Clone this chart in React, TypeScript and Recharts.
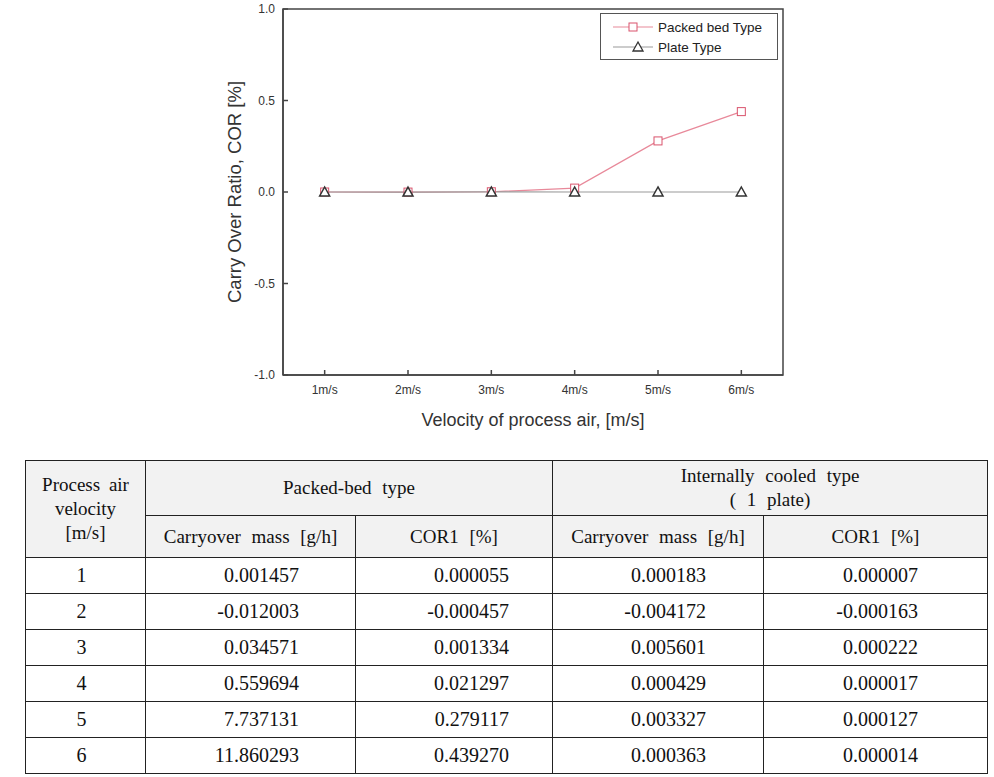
import React from 'react';
import {
  LineChart,
  Line,
  XAxis,
  YAxis,
  ReferenceArea,
  Legend,
} from 'recharts';

// chart data (COR1 [%] per process air velocity)
const velocities = [1, 2, 3, 4, 5, 6];
const xTickLabels = ['1m/s', '2m/s', '3m/s', '4m/s', '5m/s', '6m/s'];
const yTicks = [-1, -0.5, 0, 0.5, 1];
const packedCor = [0.000055, -0.000457, 0.001334, 0.021297, 0.279117, 0.43927];
const plateCor = [0.000007, -0.000163, 0.000222, 0.000017, 0.000127, 0.000014];

// table data
const packedMass = [0.001457, -0.012003, 0.034571, 0.559694, 7.737131, 11.860293];
const plateMass = [0.000183, -0.004172, 0.005601, 0.000429, 0.003327, 0.000363];

const PACKED_LINE = '#e8899a';
const PACKED_MARK = '#d9536c';
const PLATE_LINE = '#9a9a9a';
const PLATE_MARK = '#333333';
const SANS = '"Liberation Sans", Arial, sans-serif';

const chartData = velocities.map((v, i) => ({
  v,
  packed: packedCor[i],
  plate: plateCor[i],
}));

const SquareDot = (p: any) => {
  if (p.cx == null || p.cy == null) return null;
  return (
    <rect
      key={`sq-${p.index}`}
      x={p.cx - 4}
      y={p.cy - 4}
      width={8}
      height={8}
      fill="#fff"
      stroke={PACKED_MARK}
      strokeWidth={1}
    />
  );
};

const TriangleDot = (p: any) => {
  if (p.cx == null || p.cy == null) return null;
  const { cx, cy } = p;
  return (
    <path
      key={`tr-${p.index}`}
      d={`M${cx},${cy - 5} L${cx + 5},${cy + 4} L${cx - 5},${cy + 4} Z`}
      fill="#fff"
      stroke={PLATE_MARK}
      strokeWidth={1.5}
    />
  );
};

const legendItems = [
  { name: 'Packed bed Type', line: PACKED_LINE, kind: 'square' },
  { name: 'Plate Type', line: PLATE_LINE, kind: 'triangle' },
];

const LegendBox = () => (
  <div
    style={{
      border: '1px solid #555',
      width: 178,
      height: 47,
      boxSizing: 'border-box',
      background: '#fff',
      fontFamily: SANS,
      fontSize: 13.5,
      color: '#222',
      paddingTop: 3,
    }}
  >
    {legendItems.map((it) => (
      <div key={it.name} style={{ display: 'flex', alignItems: 'center', height: 20 }}>
        <svg width={54} height={14} style={{ flex: 'none' }}>
          <line x1={12} y1={7} x2={52} y2={7} stroke={it.line} strokeWidth={1.2} />
          {it.kind === 'square' ? (
            <rect x={28} y={3} width={8} height={8} fill="#fff" stroke={PACKED_MARK} />
          ) : (
            <path d="M37,2 L42,11 L32,11 Z" fill="#fff" stroke={PLATE_MARK} strokeWidth={1.3} />
          )}
        </svg>
        <span style={{ marginLeft: 3 }}>{it.name}</span>
      </div>
    ))}
  </div>
);

const cellBorder = '1px solid #222';

const th: React.CSSProperties = {
  border: cellBorder,
  background: '#f2f2f2',
  fontWeight: 'normal',
  fontSize: 19,
  padding: 0,
  lineHeight: '24px',
  wordSpacing: 6,
};

const td: React.CSSProperties = {
  border: cellBorder,
  textAlign: 'right',
  padding: 0,
  height: 35,
};

// right padding of each value column so the numbers line up like the source table
const valuePad = [56, 43, 57, 69];

export default function App() {
  return (
    <div style={{ position: 'absolute', left: 0, top: 0, width: 994, height: 777, background: '#fff' }}>
      <div style={{ position: 'absolute', left: 220, top: 0 }}>
        <LineChart
          width={580}
          height={440}
          data={chartData}
          margin={{ top: 9, right: 17, left: 0, bottom: 0 }}
        >
          <ReferenceArea
            x1={0.5}
            x2={6.5}
            y1={-1}
            y2={1}
            fill="none"
            stroke="#444"
            strokeWidth={1.5}
            ifOverflow="visible"
          />
          <XAxis
            dataKey="v"
            type="number"
            domain={[0.5, 6.5]}
            ticks={velocities}
            tickFormatter={(v: number) => xTickLabels[velocities.indexOf(v)]}
            height={65}
            stroke="#444"
            strokeWidth={1.5}
            tickSize={-5}
            tickMargin={15}
            tick={{ fontSize: 12, fill: '#333', fontFamily: SANS }}
            label={{
              value: 'Velocity of process air, [m/s]',
              position: 'insideBottom',
              offset: 14,
              style: { fontSize: 18, fill: '#333', fontFamily: SANS },
            }}
          />
          <YAxis
            type="number"
            domain={[-1, 1]}
            ticks={yTicks}
            tickFormatter={(v: number) => v.toFixed(1)}
            width={63}
            stroke="#444"
            strokeWidth={1.5}
            tickSize={-5}
            tickMargin={13}
            tick={{ fontSize: 12, fill: '#333', fontFamily: SANS }}
            label={{
              value: 'Carry Over Ratio, COR [%]',
              angle: -90,
              position: 'insideLeft',
              offset: 14,
              style: {
                textAnchor: 'middle',
                fontSize: 18.5,
                fill: '#333',
                fontFamily: SANS,
              },
            }}
          />
          <Legend
            layout="vertical"
            align="center"
            verticalAlign="middle"
            content={() => <LegendBox />}
            wrapperStyle={{ position: 'absolute', left: 380, top: 13, width: 178 }}
          />
          <Line
            dataKey="packed"
            name="Packed bed Type"
            stroke={PACKED_LINE}
            strokeWidth={1.2}
            dot={SquareDot}
            isAnimationActive={false}
          />
          <Line
            dataKey="plate"
            name="Plate Type"
            stroke={PLATE_LINE}
            strokeWidth={1.2}
            dot={TriangleDot}
            isAnimationActive={false}
          />
        </LineChart>
      </div>

      <table
        style={{
          position: 'absolute',
          left: 25,
          top: 460,
          width: 962,
          borderCollapse: 'collapse',
          tableLayout: 'fixed',
          fontFamily: '"Liberation Serif", "DejaVu Serif", serif',
          fontSize: 20,
          color: '#111',
        }}
      >
        <colgroup>
          <col style={{ width: 120 }} />
          <col style={{ width: 210 }} />
          <col style={{ width: 197 }} />
          <col style={{ width: 211 }} />
          <col style={{ width: 224 }} />
        </colgroup>
        <thead>
          <tr style={{ height: 55 }}>
            <th rowSpan={2} style={{ ...th, wordSpacing: 4 }}>
              Process air
              <br />
              velocity
              <br />
              [m/s]
            </th>
            <th colSpan={2} style={th}>
              Packed-bed type
            </th>
            <th colSpan={2} style={th}>
              Internally cooled type
              <br />( 1 plate)
            </th>
          </tr>
          <tr style={{ height: 42 }}>
            <th style={th}>Carryover mass [g/h]</th>
            <th style={th}>COR1 [%]</th>
            <th style={th}>Carryover mass [g/h]</th>
            <th style={th}>COR1 [%]</th>
          </tr>
        </thead>
        <tbody>
          {velocities.map((v, i) => (
            <tr key={v}>
              <td style={{ ...td, textAlign: 'center', paddingRight: 8 }}>{v}</td>
              <td style={{ ...td, paddingRight: valuePad[0] }}>{packedMass[i].toFixed(6)}</td>
              <td style={{ ...td, paddingRight: valuePad[1] }}>{packedCor[i].toFixed(6)}</td>
              <td style={{ ...td, paddingRight: valuePad[2] }}>{plateMass[i].toFixed(6)}</td>
              <td style={{ ...td, paddingRight: valuePad[3] }}>{plateCor[i].toFixed(6)}</td>
            </tr>
          ))}
        </tbody>
      </table>
    </div>
  );
}
